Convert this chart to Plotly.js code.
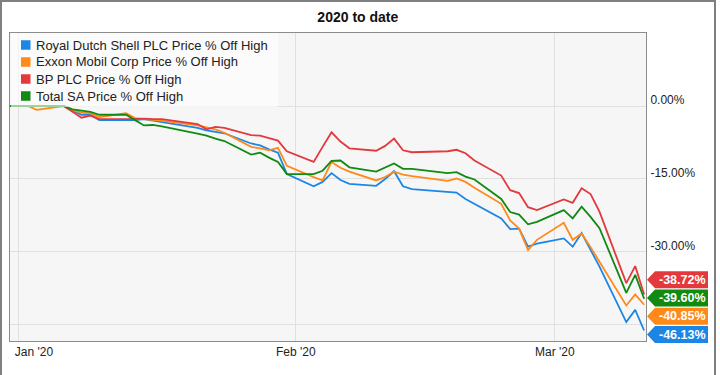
<!DOCTYPE html>
<html><head><meta charset="utf-8">
<script src="https://cdn.plot.ly/plotly-3.0.1.min.js"></script>
<style>
html,body{margin:0;padding:0;background:#fff;}
#wrap{position:relative;width:720px;height:375px;overflow:hidden;}
#chart{width:720px;height:375px;}
#frame{position:absolute;left:0;top:0;width:716px;height:400px;box-sizing:border-box;border:2px solid #808080;pointer-events:none;}
</style></head><body>
<div id="wrap"><div id="chart"></div><div id="frame"></div></div>
<script>
const dates = ['2019-12-31','2020-01-02','2020-01-03','2020-01-06','2020-01-07','2020-01-08','2020-01-09','2020-01-10','2020-01-13','2020-01-14','2020-01-15','2020-01-16','2020-01-17','2020-01-21','2020-01-22','2020-01-23','2020-01-24','2020-01-27','2020-01-28','2020-01-29','2020-01-30','2020-01-31','2020-02-03','2020-02-04','2020-02-05','2020-02-06','2020-02-07','2020-02-10','2020-02-11','2020-02-12','2020-02-13','2020-02-14','2020-02-18','2020-02-19','2020-02-20','2020-02-21','2020-02-24','2020-02-25','2020-02-26','2020-02-27','2020-02-28','2020-03-02','2020-03-03','2020-03-04','2020-03-05','2020-03-06','2020-03-09','2020-03-10','2020-03-11'];
const shell = [0,0,0,0,-0.9,-1.8,-1.8,-2.9,-2.9,-2.9,-2.7,-3.0,-3.3,-4.5,-5.0,-5.3,-5.6,-7.7,-8.1,-8.9,-9.6,-14.0,-16.5,-15.6,-13.8,-15.2,-16.0,-16.4,-15.0,-13.4,-16.5,-17.1,-17.6,-17.8,-19.1,-20.1,-23.1,-25.3,-25.2,-28.9,-28.3,-27.2,-28.9,-26.1,-29.5,-33.0,-44.4,-41.9,-46.13];
const exxon = [0,0,-0.8,0,-0.9,-1.3,-1.5,-2.3,-1.5,-2.5,-2.7,-2.9,-3.0,-4.0,-4.4,-4.8,-5.5,-8.4,-8.7,-9.1,-8.6,-12.3,-14.6,-15.3,-11.5,-12.7,-13.5,-15.3,-14.6,-13.5,-14.1,-14.4,-15.4,-14.9,-15.6,-16.8,-20.1,-23.5,-25.2,-29.6,-27.5,-24.0,-27.5,-26.2,-29.0,-32.0,-41.0,-38.7,-40.85];
const bp = [0,0,0,0,-1.2,-2.4,-2.0,-2.7,-2.7,-2.6,-2.6,-2.7,-2.7,-3.7,-4.8,-4.3,-4.5,-6.0,-6.1,-6.6,-7.1,-9.3,-11.5,-8.4,-5.4,-7.3,-8.7,-9.2,-8.2,-6.7,-9.1,-9.5,-9.3,-9.0,-9.7,-11.2,-14.3,-17.3,-17.9,-20.8,-21.4,-19.2,-19.9,-16.9,-18.1,-21.7,-36.4,-32.9,-38.72];
const total = [0,0,0,0,-0.7,-1.0,-1.2,-1.8,-1.8,-2.9,-4.0,-3.9,-4.2,-5.7,-6.1,-6.7,-7.2,-10.0,-9.6,-10.6,-11.5,-14.0,-14.0,-13.3,-11.3,-11.2,-12.6,-13.5,-12.7,-11.8,-12.9,-12.9,-13.8,-13.6,-14.5,-15.1,-19.1,-21.8,-22.3,-24.3,-23.8,-21.4,-23.1,-20.7,-22.8,-25.1,-38.4,-34.7,-39.60];
const seriesNames = ['Royal Dutch Shell PLC Price % Off High','Exxon Mobil Corp Price % Off High','BP PLC Price % Off High','Total SA Price % Off High'];
const seriesColors = ['#1c86e6','#ff8a19','#e3393c','#108a10'];
const yTickVals = [0,-15,-30,-45];
const yTickText = ['0.00%','-15.00%','-30.00%',''];
const xGridVals = ['2020-01-01','2020-02-01','2020-03-01'];
const xLabelVals = ['2020-01-02 16:30','2020-02-01','2020-03-01'];
const xTickText = ["Jan '20","Feb '20","Mar '20"];
const chartTitle = '2020 to date';

const FONT = 'Liberation Sans, Arial, sans-serif';
const W = 720, H = 375;
const M = {l:10, r:74, t:33, b:34, autoexpand:false};
const PW = W - M.l - M.r, PH = H - M.t - M.b;
const yRange = [-48.29, 15];
const xRange = ['2019-12-31 00:00','2020-03-11 05:00'];

const allSeries = [shell, exxon, bp, total];
const traces = allSeries.map((s, i) => ({x: dates, y: s, type: 'scatter', mode: 'lines', name: seriesNames[i],
  showlegend: false, line: {color: seriesColors[i], width: 1.8}, hoverinfo: 'skip'}));

const pyOf = v => M.t + (yRange[1] - v) / (yRange[1] - yRange[0]) * PH;
const toPx = X => (X - M.l) / PW;
const toPy = Y => (H - M.b - Y) / PH;
const shapes = [], annotations = [];

// legend box (top-left inside the plot)
const LG = {x0: 11, x1: 278, y0: 33, y1: 107, row0: 45, step: 17, sq: 9.5, sqX: 21, txtX: 34.5};
shapes.push({type:'rect', xref:'paper', yref:'paper', x0: toPx(LG.x0), x1: toPx(LG.x1), y0: toPy(LG.y1), y1: toPy(LG.y0),
  fillcolor:'rgba(255,255,255,0.6)', line:{width:0}, layer:'above'});
seriesNames.forEach((n, i) => {
  const yc = LG.row0 + i * LG.step;
  shapes.push({type:'rect', xref:'paper', yref:'paper', x0: toPx(LG.sqX), x1: toPx(LG.sqX + LG.sq),
    y0: toPy(yc + LG.sq/2), y1: toPy(yc - LG.sq/2), fillcolor: seriesColors[i], line:{width:0}, layer:'above'});
  annotations.push({xref:'paper', yref:'paper', x: toPx(LG.txtX), y: toPy(yc), xanchor:'left', yanchor:'middle',
    showarrow:false, text: n, borderpad:0, font:{family:FONT, size:13, color:'#222'}});
});

// end-value tags with collision spreading
const GAP = 18.3, TH = 17;
let tags = allSeries.map((s, i) => ({i, v: s[s.length-1], want: pyOf(s[s.length-1])}));
tags.sort((a, b) => a.want - b.want);
let groups = tags.map(t => ({items: [t]}));
function place(g){ const mean = g.items.reduce((a,t)=>a+t.want,0)/g.items.length; const n=g.items.length; g.items.forEach((t,k)=>{t.y = mean + (k-(n-1)/2)*GAP;}); }
groups.forEach(place);
let merged = true;
while (merged) {
  merged = false;
  for (let k = 0; k < groups.length - 1; k++) {
    const a = groups[k], b = groups[k+1];
    if (b.items[0].y - a.items[a.items.length-1].y < GAP) {
      a.items = a.items.concat(b.items); groups.splice(k+1, 1); place(a); merged = true; break;
    }
  }
}
const tipX = 647, shX = 655, rX = 708;
tags.forEach(t => {
  const yc = t.y, h = TH/2;
  const p = [[tipX,yc],[shX,yc-h],[rX,yc-h],[rX,yc+h],[shX,yc+h]];
  const path = 'M' + p.map(q => toPx(q[0]).toFixed(5) + ',' + toPy(q[1]).toFixed(5)).join(' L') + ' Z';
  shapes.push({type:'path', xref:'paper', yref:'paper', path, fillcolor: seriesColors[t.i], line:{width:0}});
  annotations.push({xref:'paper', yref:'paper', x: toPx((shX+rX)/2+0.5), y: toPy(yc), xanchor:'center', yanchor:'middle',
    showarrow:false, text: t.v.toFixed(2) + '%', font:{family:FONT, size:12.5, color:'#fff', weight:'bold'}});
});

const layout = {
  width: W, height: H, margin: M, showlegend: false,
  paper_bgcolor: 'rgba(0,0,0,0)', plot_bgcolor: '#f6f6f6',
  font: {family: FONT, color: '#222'},
  title: {text: chartTitle, x: 0.497, xref: 'container', xanchor: 'center', y: 1 - 17/H, yref: 'container', yanchor: 'middle',
    font: {family: FONT, size: 14, color: '#111', weight: 'bold'}},
  xaxis: {type: 'date', range: xRange, tickmode: 'array', tickvals: xLabelVals, ticktext: xTickText, showgrid: false,
    minor: {tickmode: 'array', tickvals: xGridVals, showgrid: true, gridcolor: '#e0e0e0', gridwidth: 1, ticks: ''},
    zeroline: false, showline: true, mirror: true, linecolor: '#8c8c8c', linewidth: 1, ticks: '',
    automargin: false, tickfont: {family: FONT, size: 12, color: '#222'}, fixedrange: true},
  yaxis: {side: 'right', range: yRange, tickvals: yTickVals, ticktext: yTickText, showgrid: true, gridcolor: '#e0e0e0',
    zeroline: false, showline: true, mirror: true, linecolor: '#8c8c8c', linewidth: 1, ticks: '',
    ticklabelshift: -6, ticklabelstandoff: 1, automargin: false,
    tickfont: {family: FONT, size: 12, color: '#222'}, fixedrange: true},
  shapes, annotations
};
Plotly.newPlot('chart', traces, layout, {displayModeBar: false, staticPlot: true});
</script></body></html>
